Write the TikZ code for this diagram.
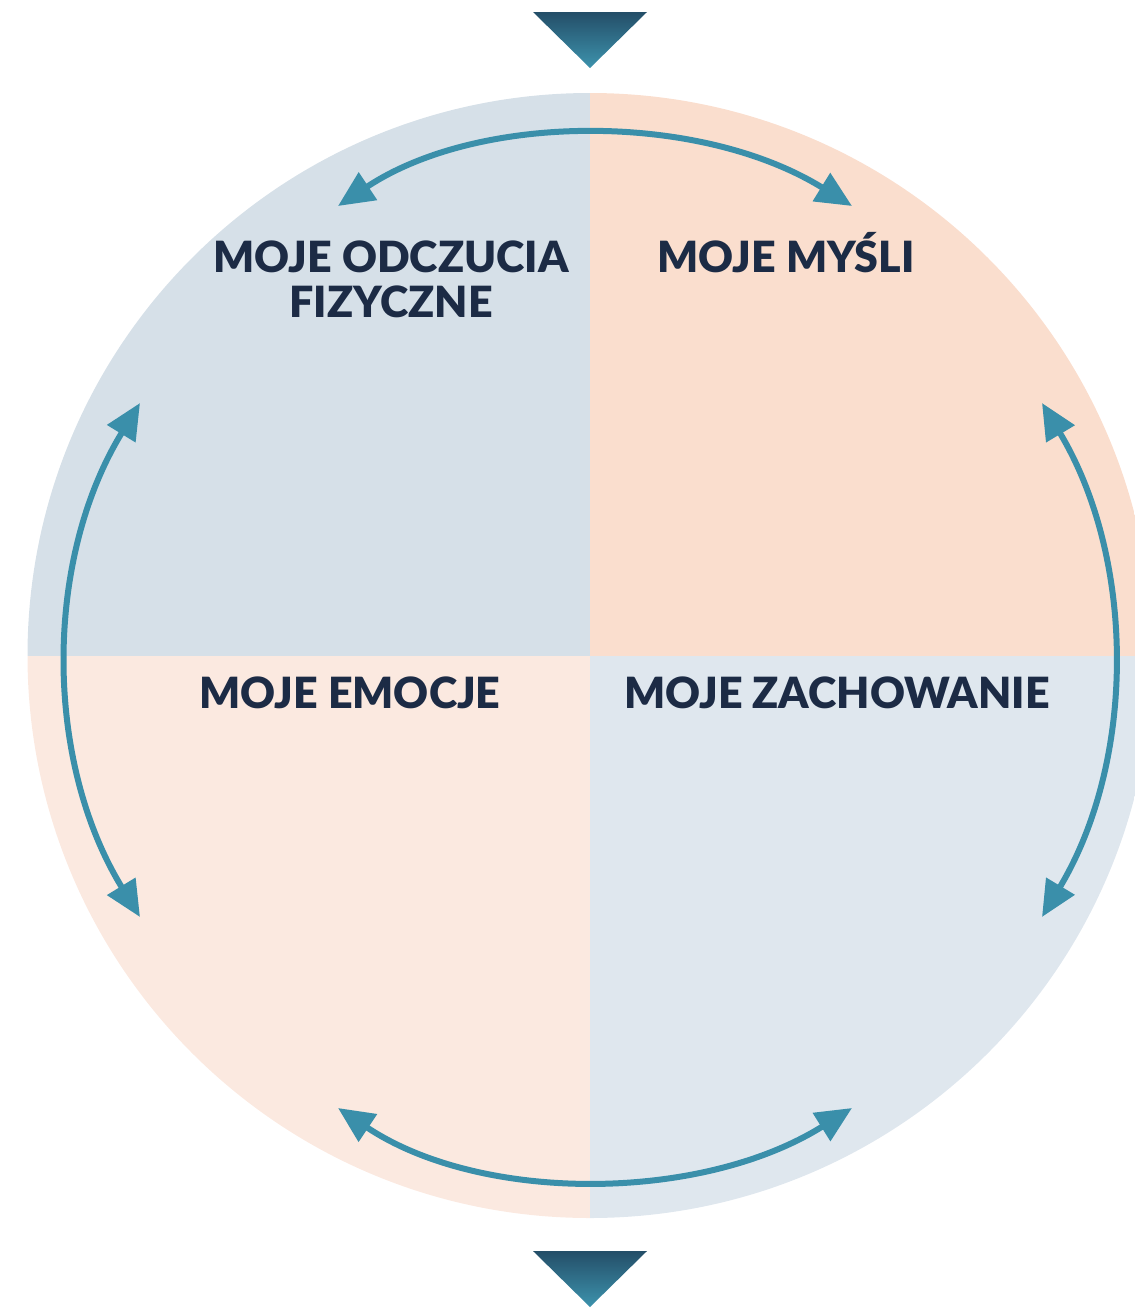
\documentclass[tikz,border=0pt]{standalone}
\usepackage{fontspec}
\setmainfont{Lato}
\newfontfamily\heavyface{Lato Black}
\usetikzlibrary{arrows.meta}
\definecolor{quadTL}{HTML}{D6E0E8}
\definecolor{quadTR}{HTML}{FADECE}
\definecolor{quadBL}{HTML}{FBE9E0}
\definecolor{quadBR}{HTML}{DFE7EE}
\definecolor{labelink}{HTML}{1C2B45}
\definecolor{cycleline}{HTML}{3A8FAA}
\definecolor{wedgetop}{HTML}{244E68}
\definecolor{wedgebot}{HTML}{3D93AD}
\tikzset{
  label/.style={font=\fontsize{43}{45}\selectfont\heavyface, text=labelink, inner sep=0pt, align=center},
  cyclearrow/.style={draw=cycleline, line width=6pt, {Triangle[length=36pt,width=32pt]}-{Triangle[length=36pt,width=32pt]}},
  wedge/.style={top color=wedgetop, bottom color=wedgebot, draw=none}
}
\begin{document}
\begin{tikzpicture}[x=1pt, y=-1pt]
  \useasboundingbox (0,0) rectangle (1135,1312);
  \clip (0,0) rectangle (1135,1312);
  % four quadrants of the disc
  \begin{scope}
    \clip (590,655.5) circle[radius=562.5];
    \fill[quadTL] (0,0) rectangle (590,656);
    \fill[quadTR] (590,0) rectangle (1200,656);
    \fill[quadBL] (0,656) rectangle (590,1312);
    \fill[quadBR] (590,656) rectangle (1200,1312);
  \end{scope}
  % entry and exit wedges
  \shade[wedge] (533,12) -- (647,12) -- (590,68) -- cycle;
  \shade[wedge] (533,1251) -- (647,1251) -- (590,1307) -- cycle;
  % quadrant labels
  \node[label, anchor=base] (body) at (391,317) {MOJE ODCZUCIA\\FIZYCZNE};
  \node[label, anchor=base] (thoughts) at (786,272) {MOJE MYŚLI};
  \node[label, anchor=base] (emotions) at (350,708) {MOJE EMOCJE};
  \node[label, anchor=base] (behaviour) at (837,708) {MOJE ZACHOWANIE};
  % arrow end points
  \coordinate (tl1) at (338,206);
  \coordinate (tr1) at (852,206);
  \coordinate (lt) at (140,403);
  \coordinate (lb) at (140,917);
  \coordinate (rt) at (1042,403);
  \coordinate (rb) at (1042,917);
  \coordinate (bl1) at (338,1108);
  \coordinate (br1) at (852,1108);
  % two-way links between neighbouring quadrants
  \draw[cyclearrow] (tl1) .. controls (480,112) and (700,112) .. (tr1);
  \draw[cyclearrow] (lt) .. controls (44,560) and (44,760) .. (lb);
  \draw[cyclearrow] (rt) .. controls (1136,560) and (1136,760) .. (rb);
  \draw[cyclearrow] (bl1) .. controls (480,1203) and (700,1203) .. (br1);
\end{tikzpicture}
\end{document}
